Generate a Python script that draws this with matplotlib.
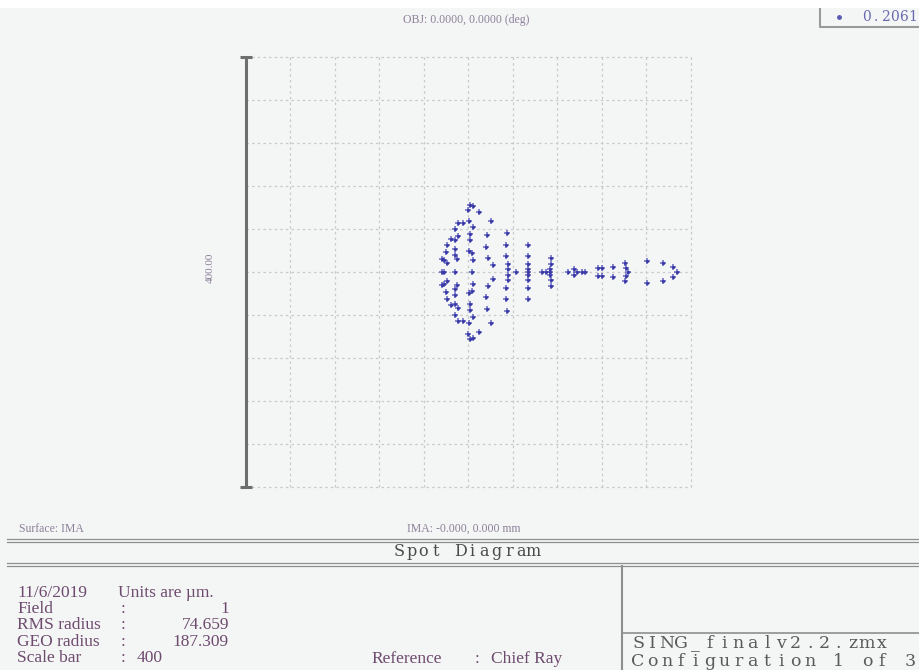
import matplotlib
matplotlib.use("Agg")
import matplotlib.pyplot as plt
import numpy as np

# Spot positions on the image plane (µm, relative to the chief ray)
upper_x = [1.2, 4.2, -0.3, 10.1, -9.2, -4.8, 0.3, 4.2, 20.6, -11.7, 1.2, -15.5, -11.7, -9.2,
           1.2, 16.8, 35.2, -19.1, -11.7, 0.3, 3.3, 15.9, 34.1, 53.2, -19.7, -11.7, -10.1,
           17.7, 34.1, 53.2, 74.2, -23.6, -21.5, -19.1, 4.2, 36.1, 21.8, 53.2, 74.2, 36.1,
           53.2, 73.5, 95.1, 116.9, 119.9, 130.3, 140.8, 141.7, 160.3, 174.6, 184.1]
upper_y = [62.7, 61.8, 58.0, 55.8, 45.6, 46.0, 47.4, 41.9, 47.4, 40.4, 35.1, 31.1, 29.5, 33.2,
           29.5, 34.1, 36.7, 25.5, 21.8, 19.3, 18.0, 23.3, 24.8, 24.8, 18.6, 15.5, 12.5,
           13.4, 14.9, 14.6, 13.0, 12.5, 10.9, 8.4, 10.9, 7.8, 6.2, 7.2, 7.2, 2.5,
           2.5, 2.5, 3.2, 4.1, 4.1, 4.7, 8.4, 4.1, 10.0, 8.4, 4.7]
axis_x = [-23.6, -21.5, -11.7, 3.3, 42.6, 53.2, 66.6, 70.0, 73.5, 90.0, 97.5, 102.0, 105.0,
          143.8, 187.2]
axis_y = [0.0] * len(axis_x)
lower_x = [1.2, 4.2, -0.3, 10.1, -9.2, -4.8, 0.3, 4.2, 20.6, -11.7, 1.2, -15.5, -11.7, -9.2,
           1.2, 16.8, 35.2, -19.1, -11.7, 0.3, 3.3, 15.9, 34.1, 53.2, -19.7, -11.7, -10.1,
           17.7, 34.1, 53.2, 74.2, -23.6, -21.5, -19.1, 4.2, 36.1, 21.8, 53.2, 74.2, 36.1,
           53.2, 73.5, 95.1, 116.9, 119.9, 130.3, 140.8, 141.7, 160.3, 174.6, 184.1]
lower_y = [-62.7, -61.8, -58.0, -55.8, -45.6, -46.0, -47.4, -41.9, -47.4, -40.4, -35.1, -31.1,
           -29.5, -33.2, -29.5, -34.1, -36.7, -25.5, -21.8, -19.3, -18.0, -23.3, -24.8, -24.8,
           -18.6, -15.5, -12.5, -13.4, -14.9, -14.6, -13.0, -12.5, -10.9, -8.4, -10.9, -7.8,
           -6.2, -7.2, -7.2, -2.5, -2.5, -2.5, -3.2, -4.1, -4.1, -4.7, -8.4, -4.1, -10.0,
           -8.4, -4.7]

scale_bar = 400.0
wavelength = "0.2061"
date_text = "11/6/2019"
units_text = "Units are \u00b5m."
info_labels = ["Field", "RMS radius", "GEO radius"]
info_values = ["1", "74.659", "187.309"]
scale_label = "Scale bar"
reference_text = "Chief Ray"
file_lines = ["SING_finalv2.2.zmx", "Configuration 1 of 3"]

W, H = 919, 670
BG = "#f4f6f6"
fig = plt.figure(figsize=(W / 100, H / 100), dpi=100, facecolor=BG)

# Overlay in pixel coordinates for the frame, captions and text blocks
ov = fig.add_axes([0, 0, 1, 1], zorder=0)
ov.set_xlim(0, W)
ov.set_ylim(H, 0)
ov.axis("off")
ov.add_patch(plt.Rectangle((0, 0), W, 8, color="white", lw=0))


def mono_text(x0, y, s, pitch, **kw):
    """Draw a string with a fixed character pitch (x0 = left edge of first cell)."""
    for i, ch in enumerate(s):
        if ch != " ":
            ov.text(x0 + i * pitch + pitch / 2, y, ch, ha="center", va="center", **kw)


small_kw = dict(family="Liberation Serif", fontsize=8.5, color="#8d8099", va="center")
ov.text(466, 20, "OBJ: 0.0000, 0.0000 (deg)", ha="center", **small_kw)
ov.text(19, 529, "Surface: IMA", ha="left", **small_kw)
ov.text(464, 529, "IMA: -0.000, 0.000 mm", ha="center", **small_kw)
ov.text(210, 268, "%.2f" % scale_bar, ha="center", rotation=90,
        family="Liberation Serif", fontsize=8, color="#8d8099", va="center")

# Wavelength legend box
ov.plot([820, 820, W + 5], [8, 27, 27], color="#9a9a9a", lw=1.5, solid_capstyle="butt")
ov.plot([839], [17], marker="o", ms=2.5, color="#5a5ab0", ls="none")
mono_text(862, 17, wavelength, 9.3, family="DejaVu Serif", fontsize=10, color="#6a6ab0")

# Title band with double rules
line_kw = dict(color="#8e8e8e", lw=0.9)
for y in (539, 541.5, 563, 565.5):
    ov.plot([7, W], [y, y], **line_kw)
ov.plot([622, 622], [565.5, H], color="#8e8e8e", lw=1.5)
ov.plot([622, W], [633, 633], color="#8e8e8e", lw=1.2)

mono_text(393, 551, "Spot Diagram", 12.2, family="DejaVu Serif", fontsize=11.5,
          color="#4a4a4a")

# Summary block: label column, colon column, right-aligned value column
info_kw = dict(family="Liberation Serif", fontsize=12.5, color="#6e4a6e", va="center")
x_label, x_colon, x_value_end, x_units = 17, 122.6, 229, 118
ov.text(x_label, 593, date_text, ha="left", **info_kw)
ov.text(x_units, 593, units_text, ha="left", **info_kw)
for i, (lab, val) in enumerate(zip(info_labels, info_values)):
    y = 593 + (i + 1) * 16.2
    ov.text(x_label, y, lab, ha="left", **info_kw)
    ov.text(x_colon, y, ":", ha="center", **info_kw)
    ov.text(x_value_end, y, val, ha="right", **info_kw)
y_scale = 593 + 4 * 16.2
ov.text(x_label, y_scale, scale_label, ha="left", **info_kw)
ov.text(x_colon, y_scale, ":", ha="center", **info_kw)
ov.text(136.6, y_scale, "%d" % scale_bar, ha="left", **info_kw)
ov.text(371, 659, "Reference", ha="left", **info_kw)
ov.text(476.8, 659, ":", ha="center", **info_kw)
ov.text(490.6, 659, reference_text, ha="left", **info_kw)

for i, line in enumerate(file_lines):
    mono_text(631, 644 + i * 18, line, 14.3, family="DejaVu Serif", fontsize=12.5,
              color="#5a5a5a")

# Spot diagram axes: 400 µm full scale, 10 divisions
ax = fig.add_axes([245.5 / W, (H - 487) / H, 445.5 / W, 430 / H], zorder=2)
ax.set_xlim(-scale_bar / 2, scale_bar / 2)
ax.set_ylim(-scale_bar / 2, scale_bar / 2)
ax.set_facecolor("none")
for s in ax.spines.values():
    s.set_visible(False)
ax.set_xticks([])
ax.set_yticks([])

grid_kw = dict(color="#c9c9c9", lw=0.9, ls=(0, (2, 2.5)), clip_on=False, zorder=1)
for g in np.linspace(-scale_bar / 2, scale_bar / 2, 11):
    ax.axvline(g, **grid_kw)
    ax.axhline(g, **grid_kw)

# Scale bar with end caps
bar_x = -scale_bar / 2
ax.plot([bar_x, bar_x], [-scale_bar / 2, scale_bar / 2], color="#6e6e6e", lw=2.2,
        clip_on=False, zorder=3, solid_capstyle="butt")
for yc in (-scale_bar / 2, scale_bar / 2):
    ax.plot([bar_x - 5, bar_x + 6], [yc, yc], color="#6e6e6e", lw=2.2, clip_on=False,
            zorder=3, solid_capstyle="butt")

xs = upper_x + axis_x + lower_x
ys = upper_y + axis_y + lower_y
ax.plot(xs, ys, ls="none", marker="+", ms=4.0, mew=1.2, color="#5050b8", alpha=0.8, zorder=4)
ax.plot(xs, ys, ls="none", marker="o", ms=2.3, mew=0, color="#3a3aa6", zorder=5)

fig.savefig("out.png", dpi=100, facecolor=BG)
